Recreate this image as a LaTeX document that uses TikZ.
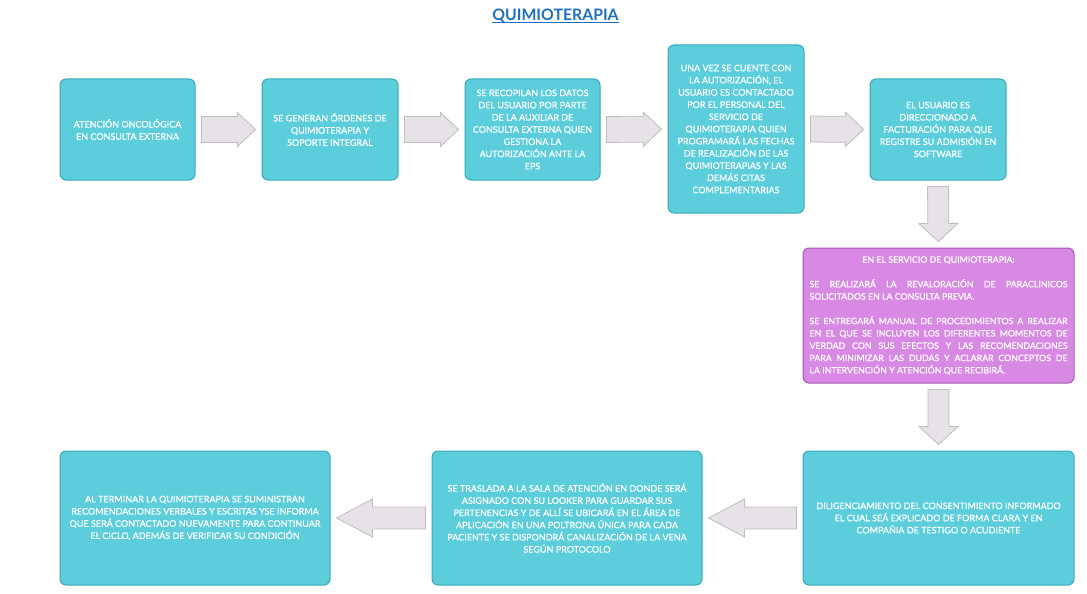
\documentclass[tikz,border=0pt]{standalone}
\usepackage{fontspec}
\setmainfont{Lato}
\newfontfamily\cajafont{Lato}[FakeBold=0.8]
\usetikzlibrary{calc}
\definecolor{cajaturq}{HTML}{5BCDDB}
\definecolor{bordeturq}{HTML}{3AA9B6}
\definecolor{cajamor}{HTML}{D789E3}
\definecolor{bordemor}{HTML}{A55AB2}
\definecolor{flecharell}{HTML}{E7E2E7}
\definecolor{flechabor}{HTML}{BDBDBD}
\definecolor{titulo}{HTML}{1F6FC1}
\tikzset{
  caja/.style={draw=bordeturq, fill=cajaturq, line width=1pt, rounded corners=6pt,
    text=white, align=center, inner sep=0pt, font=\cajafont\fontsize{9}{12.2}\selectfont},
  cajamorada/.style={caja, draw=bordemor, fill=cajamor, font=\cajafont\fontsize{8.8}{12.3}\selectfont},
  % flecha de bloque: semiancho del cuerpo, semiancho de la punta, separacion+largo de la punta
  flecha/.style n args={3}{draw=flechabor, fill=flecharell, line width=0.8pt,
    to path={let \p1=(\tikztostart), \p2=(\tikztotarget) in
      ($(\p1)!6pt!(\p2)!#1!90:(\p2)$) -- ($(\p2)!#3!(\p1)!#1!-90:(\p1)$)
      -- ($(\p2)!#3!(\p1)!#2!-90:(\p1)$) -- ($(\p2)!6pt!(\p1)$)
      -- ($(\p2)!#3!(\p1)!#2!90:(\p1)$) -- ($(\p2)!#3!(\p1)!#1!90:(\p1)$)
      -- ($(\p1)!6pt!(\p2)!#1!-90:(\p2)$) -- cycle}}
}
\begin{document}
\begin{tikzpicture}[x=1pt, y=-1pt]
  \useasboundingbox (0,0) rectangle (1087,594);
  %Titulo
  \node[anchor=base, inner sep=0pt, text=titulo, font=\fontsize{15.8}{18}\selectfont\bfseries] (tit) at (555.5,20.7) {QUIMIOTERAPIA};
  \draw[titulo, line width=1.2pt] ([yshift=-2pt]tit.base west) -- ([yshift=-2pt]tit.base east);
  %Fila superior
  \node[caja, minimum width=135pt, minimum height=101pt] (aten) at (127.5,129.5) {ATENCIÓN ONCOLÓGICA\\EN CONSULTA EXTERNA};
  \node[caja, minimum width=136pt, minimum height=101pt] (gen) at (330,129.5) {SE GENERAN ÓRDENES DE\\QUIMIOTERAPIA Y\\SOPORTE INTEGRAL};
  \node[caja, minimum width=135pt, minimum height=101pt] (recop) at (532.5,129.5) {SE RECOPILAN LOS DATOS\\DEL USUARIO POR PARTE\\DE LA AUXILIAR DE\\CONSULTA EXTERNA QUIEN\\GESTIONA LA\\AUTORIZACIÓN ANTE LA\\EPS};
  \node[caja, minimum width=136pt, minimum height=168pt] (contacto) at (736,129) {UNA VEZ SE CUENTE CON\\LA AUTORIZACIÓN, EL\\USUARIO ES CONTACTADO\\POR EL PERSONAL DEL\\SERVICIO DE\\QUIMIOTERAPIA QUIEN\\PROGRAMARÁ LAS FECHAS\\DE REALIZACIÓN DE LAS\\QUIMIOTERAPIAS Y LAS\\DEMÁS CITAS\\COMPLEMENTARIAS};
  \node[caja, minimum width=136pt, minimum height=101pt] (fact) at (938,129.5) {EL USUARIO ES\\DIRECCIONADO A\\FACTURACIÓN PARA QUE\\REGISTRE SU ADMISIÓN EN\\SOFTWARE};
  %Servicio
  \node[cajamorada, minimum width=271pt, minimum height=135pt, text width=258pt, align=justify] (serv) at (938.5,315.5)
    {\makebox[\linewidth]{EN EL SERVICIO DE QUIMIOTERAPIA:}\\[12.3pt]
     SE REALIZARÁ LA REVALORACIÓN DE PARACLINICOS\linebreak SOLICITADOS EN LA CONSULTA PREVIA.\\[12.3pt]
     SE ENTREGARÁ MANUAL DE PROCEDIMIENTOS A REALIZAR\linebreak EN EL QUE SE INCLUYEN LOS DIFERENTES MOMENTOS DE\linebreak VERDAD CON SUS EFECTOS Y LAS RECOMENDACIONES\linebreak PARA MINIMIZAR LAS DUDAS Y ACLARAR CONCEPTOS DE\linebreak LA INTERVENCIÓN Y ATENCIÓN QUE RECIBIRÁ.};
  %Fila inferior
  \node[caja, minimum width=271pt, minimum height=134pt] (dilig) at (938.5,518) {DILIGENCIAMIENTO DEL CONSENTIMIENTO INFORMADO\\EL CUAL SEÁ EXPLICADO DE FORMA CLARA Y EN\\COMPAÑIA DE TESTIGO O ACUDIENTE};
  \node[caja, minimum width=270pt, minimum height=134pt] (tras) at (567,518) {SE TRASLADA A LA SALA DE ATENCIÓN EN DONDE SERÁ\\ASIGNADO CON SU LOOKER PARA GUARDAR SUS\\PERTENENCIAS Y DE ALLÍ SE UBICARÁ EN EL ÁREA DE\\APLICACIÓN EN UNA POLTRONA ÚNICA PARA CADA\\PACIENTE Y SE DISPONDRÁ CANALIZACIÓN DE LA VENA\\SEGÚN PROTOCOLO};
  \node[caja, minimum width=270pt, minimum height=134pt] (fin) at (195,518) {AL TERMINAR LA QUIMIOTERAPIA SE SUMINISTRAN\\RECOMENDACIONES VERBALES Y ESCRITAS YSE INFORMA\\QUE SERÁ CONTACTADO NUEVAMENTE PARA CONTINUAR\\EL CICLO, ADEMÁS DE VERIFICAR SU CONDICIÓN};
  %Flechas
  \draw[flecha={13pt}{17pt}{24pt}] (aten.east) to (gen.west);
  \draw[flecha={13pt}{17pt}{24pt}] (gen.east) to (recop.west);
  \draw[flecha={13pt}{17pt}{24pt}] (recop.east) to (contacto.west);
  \draw[flecha={13pt}{17pt}{24pt}] (contacto.east) to (fact.west);
  \draw[flecha={10.5pt}{19.5pt}{24pt}] (fact.south) to (serv.north);
  \draw[flecha={10.5pt}{19.5pt}{24pt}] (serv.south) to (dilig.north);
  \draw[flecha={11pt}{19pt}{42pt}] (dilig.west) to (tras.east);
  \draw[flecha={11pt}{19pt}{42pt}] (tras.west) to (fin.east);
\end{tikzpicture}
\end{document}
